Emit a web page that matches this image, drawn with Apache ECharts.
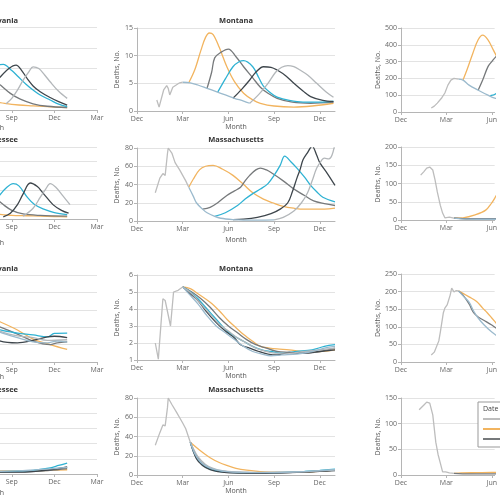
<!DOCTYPE html>
<html><head><meta charset="utf-8">
<script src="https://cdn.jsdelivr.net/npm/echarts@6/dist/echarts.min.js"></script>
<style>html,body{margin:0;padding:0;background:#fff}#c{width:500px;height:500px}</style>
</head><body><div id="c"></div>
<script>
// ---- tick labels ----
const monthLabels = ['Dec', 'Mar', 'Jun', 'Sep', 'Dec', 'Mar'];
const legendTitle = 'Date of projection';
const seriesKeys = ['obs', 'orange', 'gray', 'cyan', 'dark', 'late', 'base'];
const seriesNames = ['Observed', 'Projection 1', 'Projection 2', 'Projection 3', 'Projection 4', 'Projection 5', 'Projection 6'];
const seriesColors = ['#bdbdbd', '#f2b45f', '#76797b', '#2fb2d3', '#3e464c', '#b3b7ba', '#9bbacd'];

// ---- data: [month index since Dec, deaths] ----
// Column 1, row 1
const c1r1_gray = [[6,100],[6.8,95],[7.5,80],[8.2,60],[8.9,40],[9.6,26],[10.5,15],[11.5,9],[12.9,6]];
const c1r1_orange = [[6.5,30],[7.5,22],[8.5,16],[9.5,12],[10.5,10],[11.5,8],[12.9,6]];
const c1r1_cyan = [[6.5,40],[7.3,80],[7.9,105],[8.4,110],[9,95],[9.4,82],[10,62],[10.5,48],[11,36],[11.7,24],[12.3,14],[12.9,8]];
const c1r1_dark = [[7,30],[7.6,55],[8.2,80],[8.8,100],[9.3,108],[9.7,95],[10.1,75],[10.5,58],[11,44],[11.7,30],[12.3,20],[12.9,12]];
const c1r1_late = [[8.6,15],[9,28],[9.4,48],[9.8,72],[10.2,92],[10.5,104],[10.9,100],[11.3,85],[11.7,68],[12.3,45],[12.9,28]];
// Column 2, row 1 (Montana)
const c2r1_obs = [[1.3,2.0],[1.45,0.7],[1.75,3.8],[1.95,4.6],[2.05,4.1],[2.15,2.9],[2.35,4.3],[2.8,5.1],[3.0,5.2]];
const c2r1_base = [[3,5.2],[3.5,5.1],[4,4.7],[4.6,4.1],[5.2,3.5],[5.8,2.9],[6.4,2.3],[7,1.8],[7.4,1.4]];
const c2r1_orange = [[3.4,5.1],[3.8,7.5],[4.2,11],[4.5,13.3],[4.75,14.1],[5,13.8],[5.4,11.5],[5.9,8],[6.4,5.3],[7,3.2],[7.6,2],[8.1,1.4],[9,0.9],[10.3,0.7],[11.5,0.9],[12.9,1.4]];
const c2r1_gray = [[4.6,4.1],[4.9,7],[5.1,9.6],[5.5,10.6],[6,11.2],[6.5,9.8],[7,8],[7.6,6],[8.1,4.3],[8.6,3.2],[9.2,2.3],[10.2,1.6],[11.4,1.4],[12.9,1.6]];
const c2r1_cyan = [[5.3,3.4],[5.8,5.8],[6.3,8],[6.7,8.9],[7,9.1],[7.6,8],[8,6],[8.3,4.5],[8.8,3.2],[9.2,2.5],[10,1.9],[10.9,1.6],[12,1.6],[12.9,1.8]];
const c2r1_dark = [[6.3,2.3],[6.9,4],[7.4,5.6],[7.8,7],[8.3,8],[8.8,7.9],[9.2,7.4],[9.8,6.3],[10.3,5],[10.9,3.6],[11.4,2.6],[12.2,1.9],[12.9,1.7]];
const c2r1_late = [[7.4,1.4],[8,3],[8.6,5],[9.1,7],[9.5,7.9],[9.9,8.2],[10.3,8],[10.7,7.4],[11.2,6.5],[11.8,5],[12.4,3.5],[12.9,2.5]];
// Column 3, row 1
const c3r1_obs = [[2,24],[2.2,35],[2.4,53],[2.7,85],[2.9,113],[3.1,160],[3.3,190],[3.5,200],[3.8,196]];
const c3r1_base = [[3.8,196],[4.1,190],[4.5,160],[5.1,130],[5.75,100],[6.2,83],[7,70],[8,60]];
const c3r1_orange = [[4.1,190],[4.4,260],[4.75,350],[5.1,430],[5.4,458],[5.75,430],[6.1,370],[6.5,300],[7,220]];
const c3r1_gray = [[5.1,130],[5.4,190],[5.75,270],[6,300],[6.4,340],[6.8,360],[7.2,340]];
const c3r1_cyan = [[5.9,97],[6.3,110],[6.7,160],[7.2,230]];
// Column 1, row 2
const c1r2_gray = [[6,45],[7,40],[7.8,30],[8.4,20],[9,12],[9.8,7],[11,5],[12.9,4]];
const c1r2_orange = [[6.5,20],[7.3,12],[8,7],[9,5],[10,4.5],[11,4],[12,3.5],[12.9,3]];
const c1r2_cyan = [[6.5,8],[7.3,18],[8,30],[8.6,43],[9.1,49],[9.5,46],[10.1,30],[10.6,20],[11.2,14],[12,9],[12.9,6]];
const c1r2_dark = [[8.4,3],[8.9,8],[9.4,20],[9.8,35],[10.3,50],[10.8,45],[11.2,36],[11.9,20],[12.5,12],[13,8]];
const c1r2_late = [[9.8,4],[10.5,15],[11,30],[11.4,42],[11.7,49],[12.1,44],[12.6,32],[13.1,20]];
// Column 2, row 2 (Massachusetts)
const c2r2_obs = [[1.2,31],[1.5,47],[1.7,52],[1.85,50],[2.0,74],[2.05,80],[2.3,74],[2.5,64],[2.8,56],[3,50],[3.2,44],[3.4,37]];
const c2r2_base = [[3.4,37],[3.7,27],[3.9,20],[4.3,13],[4.6,9],[5.1,5],[5.5,3],[6.3,1.5],[7,1],[8,1],[9,1.2]];
const c2r2_late = [[9,1.2],[9.6,4],[10.3,11],[10.8,20],[11.2,31],[11.5,44],[11.8,58],[12.1,66],[12.3,69],[12.6,68],[12.8,72],[13,85]];
const c2r2_orange = [[3.4,37],[3.7,46],[4.1,56],[4.5,60],[5,61],[5.6,57],[6.3,50],[7,40],[7.6,31],[8.3,24],[8.9,20],[9.6,16],[10.3,14],[11,13],[11.6,13],[12.3,13],[13,14]];
const c2r2_gray = [[4.3,13],[4.8,15],[5.3,20],[5.9,28],[6.4,33],[6.8,37],[7.1,44],[7.4,50],[7.8,56],[8.1,58],[8.5,56],[8.9,52],[9.6,44],[10.3,35],[11,28],[11.6,22],[12.3,19],[13,17]];
const c2r2_cyan = [[5.1,5],[5.8,9],[6.6,17],[7.1,24],[7.6,30],[8.1,35],[8.6,41],[9,50],[9.4,61],[9.7,71],[10.1,65],[10.5,58],[11,48],[11.4,39],[11.8,32],[12.2,26],[13,21]];
const c2r2_dark = [[6.3,1.5],[7,2],[7.9,4],[8.8,8],[9.4,13],[9.9,20],[10.2,32],[10.5,47],[10.7,56],[10.9,67],[11.2,75],[11.5,82],[11.8,72],[12,64],[12.5,52],[13,39]];
// Column 3, row 2
const c3r2_obs = [[1.3,123],[1.5,132],[1.7,142],[1.9,145],[2.1,137],[2.25,110],[2.4,77],[2.6,40],[2.75,19],[2.9,6],[3.2,8],[3.5,5]];
const c3r2_base = [[3.5,5],[4,3],[5,2],[6,2],[7,2]];
const c3r2_dark = [[3.5,5],[4.5,3],[5.5,3],[6.3,3],[7,3]];
const c3r2_orange = [[3.5,5],[4.1,6],[4.9,14],[5.6,27],[6,47],[6.2,60],[6.6,90],[7,130]];
// Column 1, row 3
const c1r3_orange = [[3,200],[4.5,180],[6,155],[7,135],[8.2,115],[9.4,92],[10.5,66],[11.7,50],[12.9,36]];
const c1r3_gray = [[3,200],[4.5,170],[6,140],[7,118],[8.2,100],[9.4,80],[10.5,60],[11.7,50],[12.2,55],[12.9,58]];
const c1r3_cyan = [[3,200],[4.5,165],[6,130],[7,110],[8.2,92],[9.4,83],[10.5,78],[11.5,72],[12,82],[12.9,83]];
const c1r3_dark = [[3,200],[4.5,160],[6,120],[7,95],[8.2,60],[9.4,55],[10.5,62],[11.5,72],[12,74],[12.9,70]];
const c1r3_base = [[3,200],[4.5,165],[6,130],[7,105],[8.2,85],[9.4,70],[10.5,58],[11.5,55],[12.2,60],[12.9,57]];
const c1r3_late = [[3,200],[4.5,170],[6,135],[7,112],[8.2,88],[9.4,75],[10.5,70],[11.5,62],[12.9,64]];
// Column 2, row 3 (Montana)
const c2r3_obs = [[1.2,2],[1.4,1.05],[1.7,4.6],[1.85,4.5],[2.2,3],[2.4,5],[2.7,5.1],[3,5.3]];
const c2r3_orange = [[3,5.3],[3.5,5.2],[4,4.9],[4.8,4.4],[5.4,3.9],[5.9,3.4],[6.5,2.9],[7,2.5],[7.6,2.1],[8.1,1.8],[8.7,1.7],[9.2,1.65],[10,1.6],[11,1.5],[12,1.5],[13,1.6]];
const c2r3_gray = [[3,5.3],[3.6,5.0],[4.2,4.6],[4.8,4.1],[5.4,3.5],[6,3.0],[6.6,2.6],[7.2,2.2],[7.8,1.9],[8.5,1.7],[9.2,1.5],[10,1.45],[11,1.4],[12,1.5],[13,1.7]];
const c2r3_cyan = [[3,5.3],[3.5,5.0],[4,4.6],[4.6,4.0],[5.2,3.4],[5.8,2.8],[6.4,2.4],[7,2.1],[7.6,1.8],[8.2,1.6],[8.8,1.5],[9.5,1.4],[10.5,1.5],[11.5,1.6],[12.3,1.8],[13,1.9]];
const c2r3_dark = [[3,5.3],[3.5,4.9],[4,4.5],[4.6,3.8],[5.2,3.2],[5.8,2.7],[6.4,2.3],[6.8,1.9],[7.4,1.7],[8,1.5],[8.6,1.35],[9.2,1.3],[10,1.45],[11,1.4],[12,1.5],[13,1.6]];
const c2r3_base = [[3,5.3],[3.5,4.8],[4,4.3],[4.6,3.6],[5.2,3.0],[5.8,2.6],[6.4,2.2],[7,1.8],[7.6,1.5],[8.2,1.35],[8.8,1.25],[9.5,1.3],[10.5,1.35],[11.5,1.5],[12.3,1.7],[13,1.8]];
const c2r3_late = [[3,5.3],[3.6,4.9],[4.2,4.3],[4.8,3.7],[5.4,3.1],[6,2.7],[6.6,2.3],[7.2,2.0],[7.8,1.7],[8.5,1.5],[9.2,1.4],[10,1.4],[11,1.5],[12,1.6],[13,1.7]];
// Column 3, row 3
const c3r3_obs = [[2,20],[2.2,28],[2.5,60],[2.6,85],[2.8,140],[2.9,153],[3.05,162],[3.25,190],[3.35,210],[3.5,199],[3.65,203],[3.8,202]];
const c3r3_orange = [[3.8,202],[4.1,195],[4.5,185],[5,172],[5.4,153],[5.7,140],[6,125],[6.5,100]];
const c3r3_gray = [[3.8,202],[4.1,190],[4.5,165],[4.8,140],[5.1,128],[5.5,118],[6,105],[6.5,90]];
const c3r3_base = [[3.8,202],[4.1,188],[4.5,170],[4.8,145],[5.1,125],[5.5,105],[6,85],[6.5,70]];
// Column 1, row 4
const c1r4_orange = [[6,12],[8.2,10],[9.4,10],[10.5,11],[11.7,12],[12.9,14]];
const c1r4_gray = [[6,9],[8.2,7],[9.4,7],[10.5,9],[11.7,12],[12.9,18]];
const c1r4_cyan = [[6,10],[8.2,8],[9.4,9],[10.5,12],[11.7,20],[12.3,28],[12.9,36]];
const c1r4_dark = [[6,8],[8.2,6],[9.4,6],[10.5,8],[11.7,14],[12.9,23]];
const c1r4_base = [[6,11],[8.2,9],[9.4,10],[10.5,13],[11.7,17],[12.9,22]];
// Column 2, row 4 (Massachusetts)
const c2r4_obs = [[1.2,31],[1.5,44],[1.7,52],[1.85,51],[2.0,70],[2.05,80],[2.3,73],[2.6,65],[3,54],[3.2,48],[3.5,34]];
const c2r4_orange = [[3.5,34],[4.1,26],[4.8,18],[5.4,13],[5.9,10],[6.5,7],[7.2,5],[8.1,3.5],[9,3],[10,2.7],[11,3],[12,4],[13,5]];
const c2r4_gray = [[3.5,34],[3.9,20],[4.3,12],[4.8,7],[5.3,4.5],[5.9,3.2],[7,2.5],[8,2.2],[9,2.3],[10,2.6],[11,3.2],[12,4],[13,5]];
const c2r4_cyan = [[3.5,34],[3.9,18],[4.3,11],[4.8,6],[5.3,4],[5.9,3],[7,2.4],[8,2.2],[9,2.5],[10,3],[11,3.8],[12,4.8],[13,6]];
const c2r4_dark = [[3.5,34],[3.9,17],[4.3,10],[4.8,5.5],[5.3,3.5],[5.9,2.6],[7,2],[8,1.8],[9,2],[10,2.4],[11,3],[12,3.8],[13,4.5]];
const c2r4_base = [[3.5,34],[3.8,22],[4.2,13],[4.7,8],[5.3,5],[5.9,3.5],[7,2.7],[8,2.5],[9,2.6],[10,3],[11,3.6],[12,4.5],[13,5.5]];
const c2r4_late = [[3.5,34],[4,19],[4.5,11],[5,7],[5.6,4.5],[6.5,3.2],[7.5,2.8],[8.5,2.7],[9.5,2.9],[10.5,3.3],[11.5,4],[12.5,4.8],[13,5.2]];
// Column 3, row 4
const c3r4_obs = [[1.2,127],[1.5,136],[1.7,142],[1.9,140],[2.1,117],[2.3,64],[2.45,40],[2.6,23],[2.75,6],[2.95,6],[3.2,4],[3.5,3]];
const c3r4_orange = [[3.5,3],[4,4],[5,4.5],[6,5],[7,5]];
const c3r4_gray = [[3.5,3],[4.5,2],[5.5,2],[6.5,2]];

// ---- panel table ----
const panels = [
  {title:'Pennsylvania', col:0, row:0, y:[0,200,50], s:{gray:c1r1_gray, orange:c1r1_orange, cyan:c1r1_cyan, dark:c1r1_dark, late:c1r1_late}},
  {title:'Montana', col:1, row:0, y:[0,15,5], s:{obs:c2r1_obs, base:c2r1_base, orange:c2r1_orange, gray:c2r1_gray, cyan:c2r1_cyan, dark:c2r1_dark, late:c2r1_late}},
  {title:'', col:2, row:0, y:[0,500,100], s:{obs:c3r1_obs, base:c3r1_base, orange:c3r1_orange, gray:c3r1_gray, cyan:c3r1_cyan}},
  {title:'Tennessee', col:0, row:1, y:[0,100,20], s:{gray:c1r2_gray, orange:c1r2_orange, cyan:c1r2_cyan, dark:c1r2_dark, late:c1r2_late}},
  {title:'Massachusetts', col:1, row:1, y:[0,80,20], s:{obs:c2r2_obs, base:c2r2_base, orange:c2r2_orange, gray:c2r2_gray, cyan:c2r2_cyan, dark:c2r2_dark, late:c2r2_late}},
  {title:'', col:2, row:1, y:[0,200,50], s:{obs:c3r2_obs, base:c3r2_base, dark:c3r2_dark, orange:c3r2_orange}},
  {title:'Pennsylvania', col:0, row:2, y:[0,250,50], s:{orange:c1r3_orange, gray:c1r3_gray, cyan:c1r3_cyan, dark:c1r3_dark, base:c1r3_base, late:c1r3_late}},
  {title:'Montana', col:1, row:2, y:[1,6,1], s:{obs:c2r3_obs, orange:c2r3_orange, gray:c2r3_gray, cyan:c2r3_cyan, dark:c2r3_dark, base:c2r3_base, late:c2r3_late}},
  {title:'', col:2, row:2, y:[0,250,50], s:{obs:c3r3_obs, orange:c3r3_orange, gray:c3r3_gray, base:c3r3_base}},
  {title:'Tennessee', col:0, row:3, y:[0,250,50], s:{orange:c1r4_orange, gray:c1r4_gray, cyan:c1r4_cyan, dark:c1r4_dark, base:c1r4_base}},
  {title:'Massachusetts', col:1, row:3, y:[0,80,20], s:{obs:c2r4_obs, orange:c2r4_orange, gray:c2r4_gray, cyan:c2r4_cyan, dark:c2r4_dark, base:c2r4_base, late:c2r4_late}},
  {title:'', col:2, row:3, y:[0,150,50], s:{obs:c3r4_obs, orange:c3r4_orange, gray:c3r4_gray}}
];

// ---- layout (pixels) ----
// columns 1 and 3 are cropped by the picture edges: only the visible part of each is drawn
const colLayout = [
  {left:0, width:97, xMin:8.17, xMax:15, crop:'left'},
  {left:137, width:198, xMin:0, xMax:13, crop:''},
  {left:401, width:99, xMin:0, xMax:6.19, crop:'right'}
];
const gridBox = [
  [[27,83],[28,83],[28,84]],
  [[147,72],[148,73],[147,73]],
  [[275,87],[275,85],[274,88]],
  [[398,76],[398,77],[398,77]]
];
const titleTop = [17, 136, 265, 386];
const monthGap = [12, 15, 12, 12];
const monthTop = [124, 239, 373, 489];
const FONT = 'Open Sans, Noto Sans, sans-serif';
const tickValues = [0, 3, 6, 9, 12, 15];

const grid = [], xAxis = [], yAxis = [], series = [], title = [];
panels.forEach((p, i) => {
  const cl = colLayout[p.col];
  const gb = gridBox[p.row][p.col];
  const ticks = tickValues.filter(v => v >= cl.xMin && v <= cl.xMax);
  grid.push({left: cl.left, top: gb[0], width: cl.width, height: gb[1], containLabel: false});
  xAxis.push({
    gridIndex: i, type: 'value', min: cl.xMin, max: cl.xMax,
    name: cl.crop ? '' : 'Month', nameLocation: 'middle', nameGap: monthGap[p.row],
    nameTextStyle: {fontSize: 7, color: '#555', fontFamily: FONT},
    axisLine: {show: true, lineStyle: {color: '#b5b5b5', width: 1}},
    axisTick: {show: true, length: 3, lineStyle: {color: '#b5b5b5'}, customValues: ticks},
    splitLine: {show: false},
    axisLabel: {fontSize: 7, color: '#666', margin: 4, fontFamily: FONT, customValues: ticks,
      hideOverlap: false, formatter: v => monthLabels[Math.round(v / 3)]}
  });
  const leftCropped = cl.crop === 'left';
  yAxis.push({
    gridIndex: i, type: 'value', min: p.y[0], max: p.y[1], interval: p.y[2],
    name: leftCropped ? '' : 'Deaths, No.', nameLocation: 'middle', nameGap: 17, nameRotate: 90,
    nameTextStyle: {fontSize: 7, color: '#555', fontFamily: FONT},
    axisLine: {show: !leftCropped, lineStyle: {color: '#b5b5b5', width: 1}},
    axisTick: {show: !leftCropped, length: 3, lineStyle: {color: '#b5b5b5'}},
    splitLine: {show: true, lineStyle: {color: '#e3e3e3', width: 1}},
    axisLabel: {show: !leftCropped, fontSize: 7, color: '#666', margin: 4, fontFamily: FONT}
  });
  seriesKeys.forEach((k, j) => {
    if (!p.s[k]) return;
    series.push({
      type: 'line', name: seriesNames[j], xAxisIndex: i, yAxisIndex: i,
      data: p.s[k], showSymbol: false, symbol: 'none', smooth: k === 'obs' ? false : 0.35,
      lineStyle: {color: seriesColors[j], width: 1.3}, itemStyle: {color: seriesColors[j]},
      z: k === 'obs' ? 3 : 2, silent: true, animation: false, clip: true
    });
  });
  if (p.title) {
    if (leftCropped) {
      title.push({text: p.title, left: 18, top: titleTop[p.row], textAlign: 'right', padding: 0,
        textStyle: {fontSize: 7.5, fontWeight: 'bold', color: '#333', fontFamily: FONT}});
    } else {
      title.push({text: p.title, left: cl.left + cl.width / 2, top: titleTop[p.row], textAlign: 'center', padding: 0,
        textStyle: {fontSize: 7.5, fontWeight: 'bold', color: '#333', fontFamily: FONT}});
    }
  }
  if (leftCropped) {
    title.push({text: 'Month', left: 4, top: monthTop[p.row], textAlign: 'right', padding: 0,
      textStyle: {fontSize: 7, fontWeight: 'normal', color: '#555', fontFamily: FONT}});
  }
});
title.push({text: legendTitle, left: 483, top: 405, padding: 0,
  textStyle: {fontSize: 7, fontWeight: 'normal', color: '#444', fontFamily: FONT}});

const chart = echarts.init(document.getElementById('c'), null, {renderer: 'canvas'});
chart.setOption({
  animation: false,
  backgroundColor: '#fff',
  title: title,
  grid: grid, xAxis: xAxis, yAxis: yAxis, series: series,
  legend: {
    data: seriesNames, left: 478, top: 402, height: 32, orient: 'vertical',
    padding: [13, 5, 4, 5], itemGap: 2, itemWidth: 22, itemHeight: 2, icon: 'rect',
    borderColor: '#999', borderWidth: 1, backgroundColor: '#fff',
    textStyle: {fontSize: 7, color: '#444', fontFamily: FONT, lineHeight: 8}
  }
});
</script></body></html>
